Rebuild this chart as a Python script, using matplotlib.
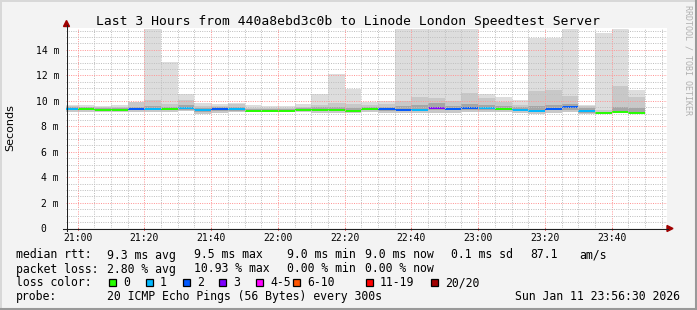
import numpy as np
import pandas as pd
import matplotlib
matplotlib.use("Agg")
import matplotlib.pyplot as plt
import matplotlib.dates as mdates
import matplotlib.ticker as mticker
from matplotlib.patches import Rectangle, Polygon
from matplotlib.lines import Line2D

W, H = 697, 310

# one smokeping sample every 300 s
bar_start = pd.date_range("2026-01-11 20:55", periods=35, freq="5min")
median_ms = [9.36, 9.36, 9.30, 9.27, 9.38, 9.36, 9.36, 9.47, 9.28, 9.38,
             9.36, 9.22, 9.22, 9.22, 9.27, 9.30, 9.30, 9.22, 9.36, 9.36,
             9.30, 9.30, 9.47, 9.36, 9.46, 9.46, 9.36, 9.30, 9.22, 9.36,
             9.52, 9.20, 9.02, 9.12, 9.04]
loss_idx = [1, 0, 0, 0, 2, 1, 0, 1, 1, 2,
            1, 0, 0, 0, 0, 0, 0, 0, 0, 2,
            2, 1, 3, 2, 2, 1, 0, 1, 1, 2,
            2, 1, 0, 0, 0]
ping_max = [9.67, 9.67, 9.59, 9.67, 9.93, 15.65, 13.07, 10.53, 9.85, 9.75,
            9.85, 9.67, 9.59, 9.59, 9.75, 10.50, 12.07, 10.95, 9.93, 10.00,
            15.65, 15.65, 15.65, 15.65, 15.65, 10.53, 10.32, 10.09, 14.93, 14.93,
            15.65, 9.67, 15.32, 15.65, 10.85]
ping_hi2 = [9.60, 9.55, 9.50, 9.55, 9.88, 10.10, 9.75, 10.06, 9.60, 9.62,
            9.72, 9.45, 9.45, 9.45, 9.55, 9.70, 9.85, 9.75, 9.70, 9.75,
            10.00, 10.32, 10.20, 9.95, 10.64, 10.20, 9.90, 9.70, 10.77, 10.87,
            10.40, 9.62, 9.30, 11.16, 10.30]
ping_hi3 = [9.50, 9.48, 9.42, 9.42, 9.55, 9.60, 9.55, 9.65, 9.45, 9.50,
            9.52, 9.35, 9.35, 9.35, 9.40, 9.50, 9.55, 9.45, 9.50, 9.55,
            9.60, 9.70, 9.80, 9.60, 9.75, 9.70, 9.60, 9.50, 9.60, 9.70,
            9.75, 9.40, 9.15, 9.50, 9.40]
ping_lo3 = [9.25, 9.25, 9.20, 9.18, 9.25, 9.25, 9.25, 9.30, 9.12, 9.22,
            9.22, 9.15, 9.15, 9.15, 9.18, 9.20, 9.18, 9.15, 9.25, 9.20,
            9.18, 9.20, 9.30, 9.25, 9.30, 9.30, 9.25, 9.20, 9.12, 9.25,
            9.30, 9.05, 9.02, 9.12, 9.04]
ping_min = [9.15, 9.15, 9.10, 9.10, 9.12, 9.12, 9.15, 9.18, 8.96, 9.05,
            9.10, 9.10, 9.10, 9.10, 9.10, 9.08, 9.05, 9.05, 9.12, 9.08,
            9.05, 9.05, 9.05, 9.08, 9.10, 9.12, 9.12, 9.05, 9.00, 9.05,
            9.10, 8.96, 9.00, 9.10, 9.02]

loss_labels = ["0", "1", "2", "3", "4-5", "6-10", "11-19", "20/20"]
loss_colors = ["#26ff00", "#00b8ff", "#0059ff", "#7e00ff", "#ff00ff",
               "#ff5500", "#ff0000", "#a10000"]
loss_x = [109, 145.7, 182.7, 219.3, 256, 293.3, 365.7, 430.7]

title = "Last 3 Hours from 440a8ebd3c0b to Linode London Speedtest Server"
row_rtt = [("median rtt:", 16), ("9.3 ms avg", 107.3), ("9.5 ms max", 194.3),
           ("9.0 ms min", 287.3), ("9.0 ms now", 365), ("0.1 ms sd", 451),
           ("87.1", 530), ("am/s", 579.3)]
row_loss = [("packet loss:", 16), ("2.80 % avg", 107.3), ("10.93 % max", 194),
            ("0.00 % min", 286.7), ("0.00 % now", 365)]
row_probe = [("probe:", 16), ("20 ICMP Echo Pings (56 Bytes) every 300s", 107.3)]
stamp = "Sun Jan 11 23:56:30 2026"

MONO = "DejaVu Sans Mono"


def fx(x):
    return x / W


def fy(y):
    return 1 - y / H


fig = plt.figure(figsize=(W / 100, H / 100), dpi=100, facecolor="#f3f3f3")
ax = fig.add_axes([fx(66), fy(228.3), (666.7 - 66) / W, (228.3 - 28) / H])
ax.set_facecolor("white")

x = mdates.date2num(bar_start.to_pydatetime())
bw = 5 / 1440
mn = np.array(ping_min)
ax.bar(x, np.array(ping_max) - mn, bottom=mn, width=bw, align="edge",
       color="#dddddd", linewidth=0, zorder=1)
ax.bar(x, np.array(ping_hi2) - mn, bottom=mn, width=bw, align="edge",
       color="#c8c8c8", linewidth=0, zorder=1.1)
lo3 = np.array(ping_lo3)
ax.bar(x, np.array(ping_hi3) - lo3, bottom=lo3, width=bw, align="edge",
       color="#a6a6a6", linewidth=0, zorder=1.2)
ax.hlines(median_ms, x, x + bw, colors=[loss_colors[i] for i in loss_idx],
          linewidth=1.4, zorder=2)

t0 = mdates.date2num(pd.Timestamp("2026-01-11 20:56:30").to_pydatetime())
ax.set_xlim(t0, t0 + 3 / 24)
ax.set_ylim(0, 15.71)

ax.xaxis.set_major_locator(mdates.MinuteLocator(byminute=[0, 20, 40]))
ax.xaxis.set_minor_locator(mdates.MinuteLocator(byminute=range(0, 60, 5)))
ax.xaxis.set_major_formatter(mdates.DateFormatter("%H:%M"))
ax.yaxis.set_major_locator(mticker.MultipleLocator(2))
ax.yaxis.set_minor_locator(mticker.MultipleLocator(0.5))
ax.yaxis.set_major_formatter(
    mticker.FuncFormatter(lambda v, p: "0  " if v == 0 else f"{v:.0f} m"))

ax.set_axisbelow(False)
ax.grid(which="minor", color="#c0c0c0", linestyle=(0, (1, 1.3)), linewidth=0.72)
ax.grid(which="major", color="#ff9696", linestyle=(0, (1, 1.3)), linewidth=0.72)
for s in ax.spines.values():
    s.set_visible(False)
ax.tick_params(which="both", direction="in", length=0)
ax.tick_params(axis="x", pad=3.2, labelsize=7)
ax.tick_params(axis="y", pad=5.0, labelsize=7)
for lab in ax.get_xticklabels() + ax.get_yticklabels():
    lab.set_family(MONO)

# small red ticks under the x axis at the major marks
for t in ax.get_xticks():
    ax.plot([t, t], [-0.12, 0], color="#e07070", linewidth=0.72, clip_on=False,
            zorder=3)

# axes with arrow heads
fig.add_artist(Line2D([fx(66.5), fx(66.5)], [fy(231), fy(25)], color="#202020",
                      linewidth=0.75))
fig.add_artist(Line2D([fx(63), fx(668)], [fy(228.5), fy(228.5)], color="#202020",
                      linewidth=0.75))
fig.add_artist(Polygon([[fx(63.5), fy(26.5)], [fx(69.5), fy(26.5)], [fx(66.5), fy(20.5)]],
                       closed=True, color="#a00000", transform=fig.transFigure))
fig.add_artist(Polygon([[fx(667), fy(225.5)], [fx(667), fy(231.5)], [fx(673), fy(228.5)]],
                       closed=True, color="#a00000", transform=fig.transFigure))

# 3d border
fig.add_artist(Line2D([0, 1], [fy(0.5), fy(0.5)], color="#d8d8d8", linewidth=1.4))
fig.add_artist(Line2D([fx(0.5), fx(0.5)], [0, 1], color="#d8d8d8", linewidth=1.4))
fig.add_artist(Line2D([0, 1], [fy(309), fy(309)], color="#999999", linewidth=1.5))
fig.add_artist(Line2D([fx(696), fx(696)], [0, 1], color="#999999", linewidth=1.5))

fig.text(fx(347.8), fy(25), title, ha="center", va="baseline", family=MONO,
         size=9.4)
fig.text(fx(10), fy(127.5), "Seconds", rotation=90, ha="center", va="center",
         family="DejaVu Sans", size=8)
fig.text(fx(688), fy(5), "RRDTOOL / TOBI OETIKER", rotation=270, ha="center",
         va="top", family=MONO, size=6, color="#b0b0b0")

for row, base in ((row_rtt, 258.5), (row_loss, 272.5), (row_probe, 300.3)):
    for s, xp in row:
        fig.text(fx(xp), fy(base), s, ha="left", va="baseline", family=MONO,
                 size=8.3)
fig.text(fx(680), fy(300.3), stamp, ha="right", va="baseline", family=MONO,
         size=8.3)

fig.text(fx(16), fy(286.5), "loss color:", ha="left", va="baseline", family=MONO,
         size=8.3)
for lab, col, xp in zip(loss_labels, loss_colors, loss_x):
    fig.add_artist(Rectangle((fx(xp), fy(286)), 7 / W, 7 / H,
                             transform=fig.transFigure, facecolor=col,
                             edgecolor="black", linewidth=0.9))
    fig.text(fx(xp + 14), fy(286.5), lab, ha="left", va="baseline", family=MONO,
             size=8.3)

fig.savefig("out.png", dpi=100, facecolor=fig.get_facecolor())
